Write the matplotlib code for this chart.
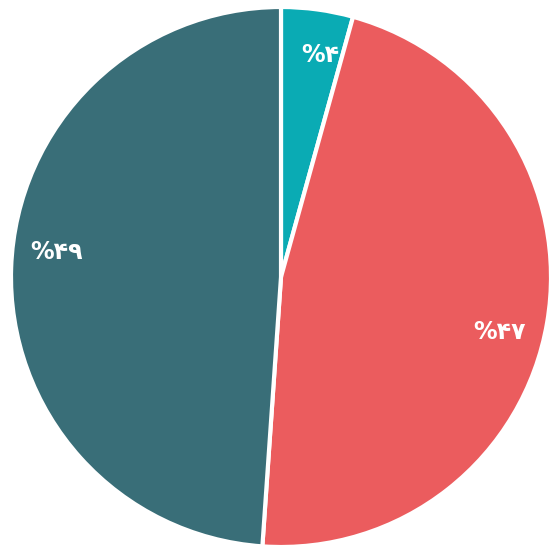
import matplotlib
matplotlib.use("Agg")
import matplotlib.pyplot as plt
import numpy as np

# سهم هر بخش (درصد)
values = [4.3, 46.8, 48.9]
labels = ["%۴", "%۴۷", "%۴۹"]
colors = ["#0aabb4", "#eb5c5e", "#396e78"]
label_shift = [-2.2, -4.5, -4.5]  # درجه

fig = plt.figure(figsize=(5.5, 5.46), dpi=100)
ax = fig.add_axes([0, 0, 1, 1])

wedges, texts = ax.pie(values, colors=colors, startangle=90,
                       counterclock=False,
                       wedgeprops=dict(edgecolor="white", linewidth=3))

# برچسب‌ها کمی جابه‌جا نسبت به وسط هر قطعه
for w, lab, sh in zip(wedges, labels, label_shift):
    ang = np.deg2rad((w.theta1 + w.theta2) / 2 + sh)
    ax.text(0.835 * np.cos(ang), 0.835 * np.sin(ang), lab, ha="center", va="center",
            color="white", fontsize=17, fontweight="bold", family=["DejaVu Sans"])

ax.set_xlim(-281 / 270, 269 / 270)
ax.set_ylim(-269 / 270, 277 / 270)
ax.set_aspect("equal")
ax.axis("off")

fig.savefig("out.png", dpi=100)
